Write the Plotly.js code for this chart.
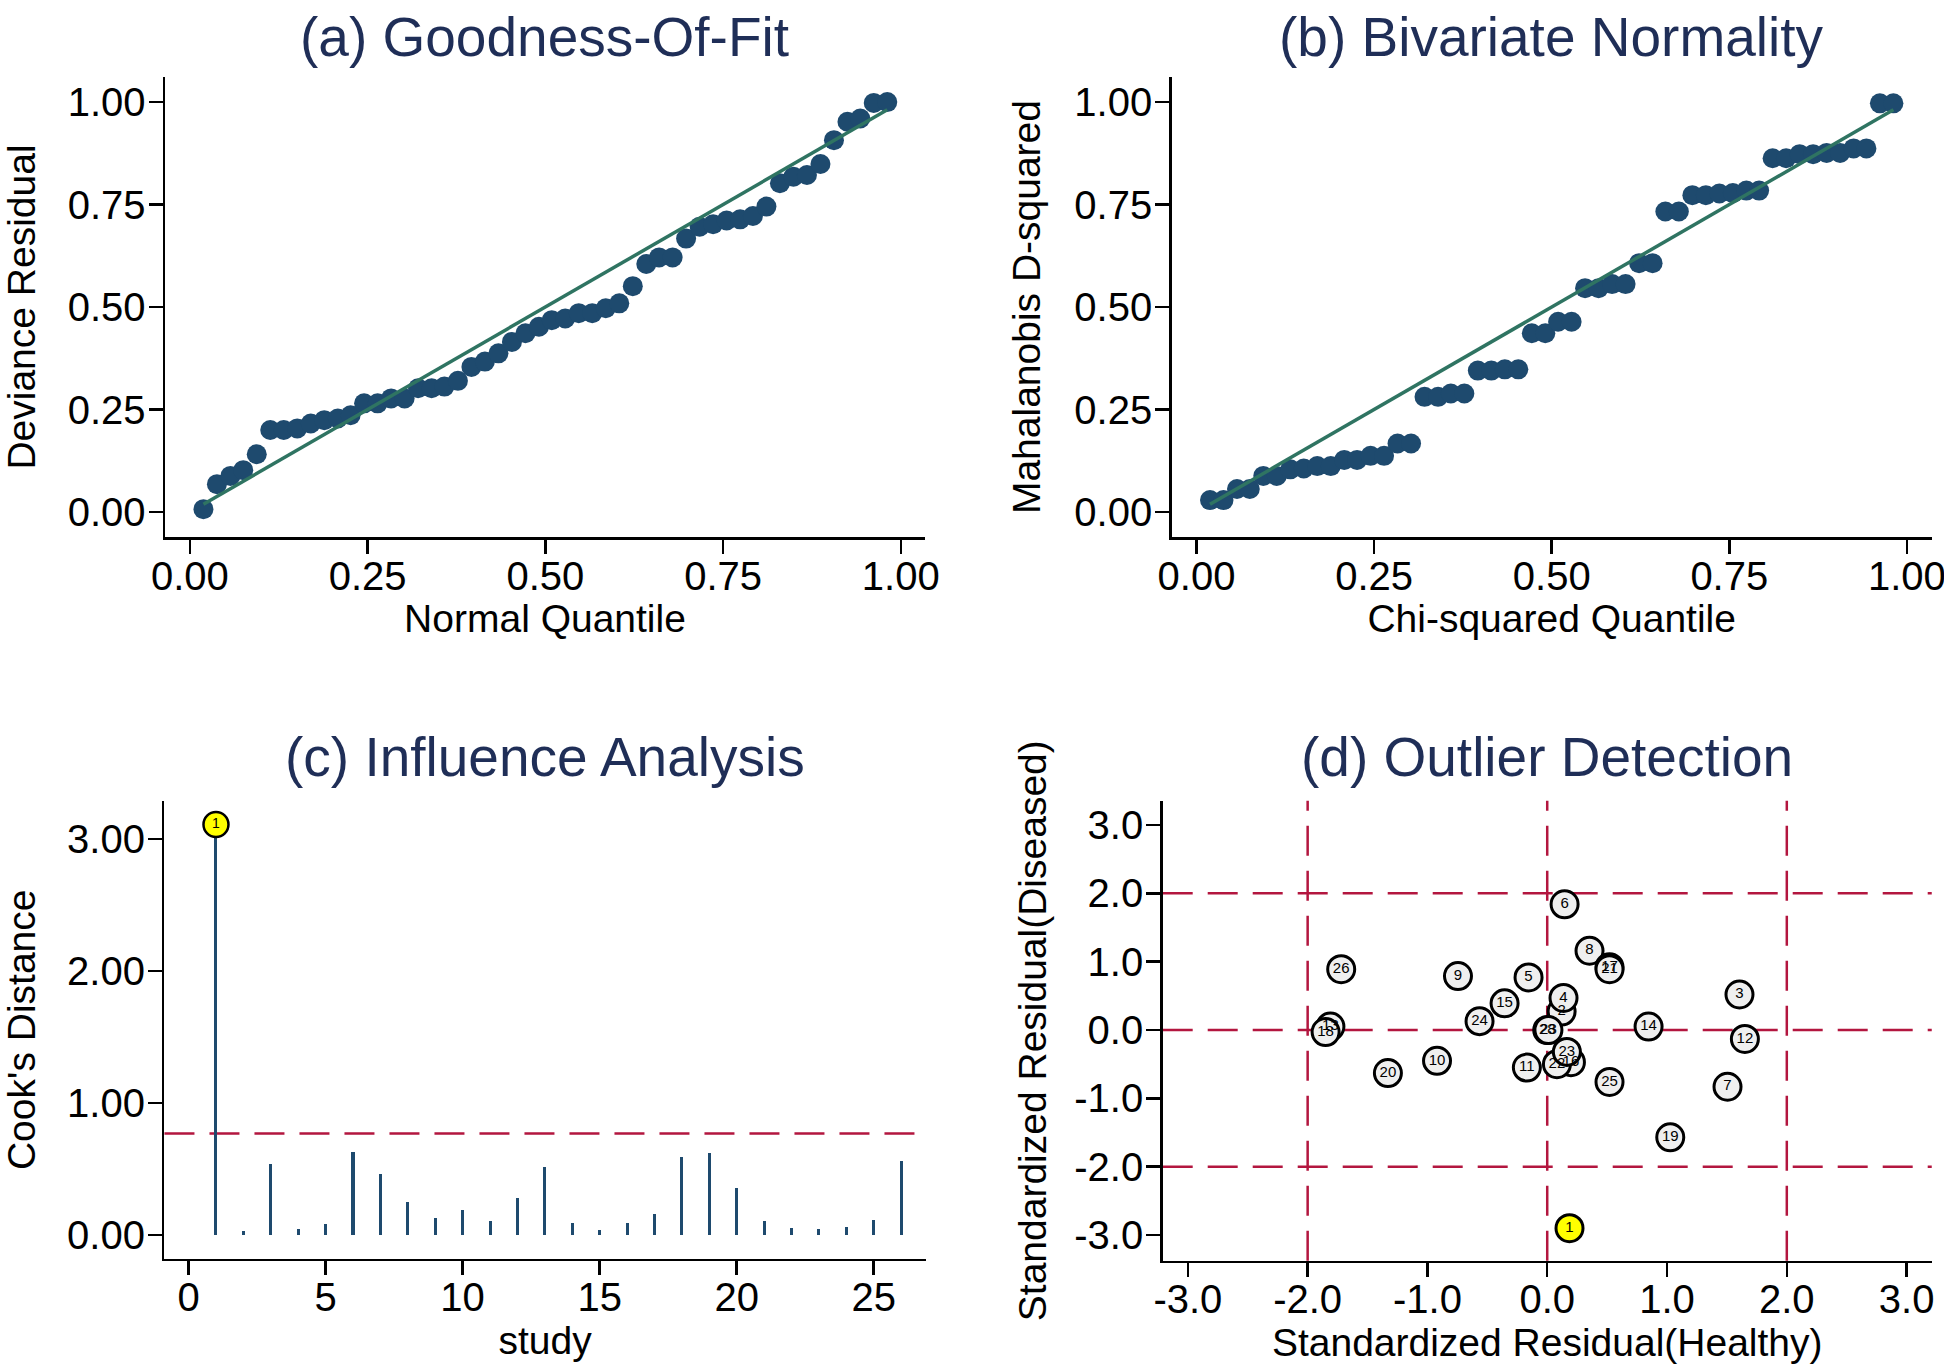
<!DOCTYPE html>
<html>
<head>
<meta charset="utf-8">
<script src="https://cdn.plot.ly/plotly-3.0.1.min.js"></script>
<style>
  html, body { margin: 0; padding: 0; background: #ffffff; }
  #chart { width: 1944px; height: 1364px; }
</style>
</head>
<body>
<div id="chart"></div>
<script>
// ---------------- DATA ----------------
// (a) Goodness-of-fit: plotting positions (normal quantile) and sorted deviance residuals
const normalQuantile = [0.019, 0.038, 0.057, 0.075, 0.094, 0.113, 0.132, 0.151, 0.170, 0.189,
  0.208, 0.226, 0.245, 0.264, 0.283, 0.302, 0.321, 0.340, 0.358, 0.377,
  0.396, 0.415, 0.434, 0.453, 0.472, 0.491, 0.509, 0.528, 0.547, 0.566,
  0.585, 0.604, 0.623, 0.642, 0.660, 0.679, 0.698, 0.717, 0.736, 0.755,
  0.774, 0.792, 0.811, 0.830, 0.849, 0.868, 0.887, 0.906, 0.925, 0.943,
  0.962, 0.981];
const devianceResidual = [0.007, 0.068, 0.088, 0.102, 0.141, 0.200, 0.200, 0.204, 0.216, 0.224,
  0.228, 0.236, 0.265, 0.265, 0.277, 0.277, 0.302, 0.302, 0.306, 0.320,
  0.354, 0.367, 0.387, 0.415, 0.436, 0.452, 0.468, 0.472, 0.485, 0.485,
  0.497, 0.509, 0.551, 0.605, 0.621, 0.621, 0.667, 0.696, 0.702, 0.711,
  0.714, 0.722, 0.745, 0.802, 0.818, 0.822, 0.849, 0.907, 0.952, 0.960,
  0.998, 1.000];

// (b) Bivariate normality: chi-squared quantile and Mahalanobis D-squared
const chiSqQuantile = [0.019, 0.038, 0.057, 0.075, 0.094, 0.113, 0.132, 0.151, 0.170, 0.189,
  0.208, 0.226, 0.245, 0.264, 0.283, 0.302, 0.321, 0.340, 0.358, 0.377,
  0.396, 0.415, 0.434, 0.453, 0.472, 0.491, 0.509, 0.528, 0.547, 0.566,
  0.585, 0.604, 0.623, 0.642, 0.660, 0.679, 0.698, 0.717, 0.736, 0.755,
  0.774, 0.792, 0.811, 0.830, 0.849, 0.868, 0.887, 0.906, 0.925, 0.943,
  0.962, 0.981];
const mahalanobisD2 = [0.029, 0.029, 0.056, 0.056, 0.088, 0.088, 0.104, 0.106, 0.112, 0.112,
  0.127, 0.127, 0.137, 0.137, 0.167, 0.167, 0.281, 0.281, 0.289, 0.289,
  0.345, 0.345, 0.348, 0.348, 0.436, 0.436, 0.464, 0.464, 0.546, 0.546,
  0.556, 0.556, 0.607, 0.607, 0.733, 0.733, 0.773, 0.773, 0.777, 0.778,
  0.784, 0.784, 0.863, 0.863, 0.873, 0.873, 0.876, 0.876, 0.887, 0.887,
  0.997, 0.997];

// reference (45-degree) lines
const refLineA = [0.019, 0.981];
const refLineB = [0.019, 0.981];

// (c) Influence analysis: Cook's distance per study
const studyIds = [1, 2, 3, 4, 5, 6, 7, 8, 9, 10, 11, 12, 13, 14, 15, 16, 17, 18, 19, 20, 21, 22, 23, 24, 25, 26];
const cooksDistance = [3.11, 0.033, 0.538, 0.050, 0.088, 0.627, 0.462, 0.253, 0.131, 0.190,
  0.106, 0.283, 0.518, 0.096, 0.038, 0.094, 0.157, 0.594, 0.624, 0.361,
  0.104, 0.058, 0.050, 0.063, 0.114, 0.564];
const cooksThreshold = 0.77;
const influentialStudies = [1];

// (d) Outlier detection: standardized residuals
const outlierLabels = ["1", "2", "3", "4", "5", "6", "7", "8", "9", "10", "11", "12", "13",
  "14", "15", "16", "17", "18", "19", "20", "21", "22", "23", "24", "25", "26", "28", "23"];
const residHealthy = [0.186, 0.120, 1.605, 0.136, -0.156, 0.145, 1.505, 0.353, -0.745, -0.920,
  -0.170, 1.650, -1.810, 0.846, -0.356, 0.198, 0.520, -1.850, 1.027, -1.330,
  0.520, 0.081, 0.164, -0.565, 0.520, -1.720, 0.000, 0.010];
const residDiseased = [-2.90, 0.27, 0.52, 0.47, 0.77, 1.84, -0.83, 1.16, 0.79, -0.45,
  -0.55, -0.13, 0.05, 0.05, 0.39, -0.47, 0.92, -0.03, -1.57, -0.63,
  0.89, -0.50, -0.32, 0.13, -0.76, 0.89, 0.00, 0.00];
const outlierCutoffs = [-2, 0, 2];

// tick labels
const unitTicks = [0, 0.25, 0.5, 0.75, 1];
const unitTickText = ["0.00", "0.25", "0.50", "0.75", "1.00"];
const cookTicks = [0, 1, 2, 3];
const cookTickText = ["0.00", "1.00", "2.00", "3.00"];
const studyTicks = [0, 5, 10, 15, 20, 25];
const residTicks = [-3, -2, -1, 0, 1, 2, 3];
const residTickText = ["-3.0", "-2.0", "-1.0", "0.0", "1.0", "2.0", "3.0"];

// ---------------- STYLE ----------------
const FONT = "Liberation Sans, Arial, Helvetica, sans-serif";
const NAVY = "#1e4a6e";
const TEAL = "#2f7462";
const CRIMSON = "#b3163f";
const TITLE_COLOR = "#1f2e57";

function xAxisBase(extra) {
  return Object.assign({
    showline: true, linecolor: "#000000", linewidth: 2.5,
    ticks: "outside", ticklen: 14, tickwidth: 2.5, tickcolor: "#000000",
    showgrid: false, zeroline: false, mirror: false,
    tickfont: { family: FONT, size: 40, color: "#000000" },
    ticklabelstandoff: -12, ticklabeloverflow: "allow",
    automargin: false, fixedrange: true
  }, extra);
}
function yAxisBase(extra) {
  return Object.assign({
    showline: true, linecolor: "#000000", linewidth: 2.5,
    ticks: "outside", ticklen: 14, tickwidth: 2.5, tickcolor: "#000000",
    showgrid: false, zeroline: false, mirror: false,
    tickfont: { family: FONT, size: 40, color: "#000000" },
    ticklabelstandoff: -5, ticklabeloverflow: "allow",
    automargin: false, fixedrange: true
  }, extra);
}

const traces = [
  // (a)
  { type: "scatter", mode: "markers", x: normalQuantile, y: devianceResidual,
    xaxis: "x", yaxis: "y", marker: { size: 20, color: NAVY }, hoverinfo: "skip" },
  { type: "scatter", mode: "lines", x: refLineA, y: refLineA,
    xaxis: "x", yaxis: "y", line: { color: TEAL, width: 3.5 }, hoverinfo: "skip" },
  // (b)
  { type: "scatter", mode: "markers", x: chiSqQuantile, y: mahalanobisD2,
    xaxis: "x2", yaxis: "y2", marker: { size: 20, color: NAVY }, hoverinfo: "skip" },
  { type: "scatter", mode: "lines", x: refLineB, y: refLineB,
    xaxis: "x2", yaxis: "y2", line: { color: TEAL, width: 3.5 }, hoverinfo: "skip" },
  // (c)
  { type: "bar", x: studyIds, y: cooksDistance, width: 0.11,
    xaxis: "x3", yaxis: "y3", marker: { color: NAVY, line: { width: 0 } }, hoverinfo: "skip" },
  { type: "scatter", mode: "markers+text",
    x: influentialStudies,
    y: influentialStudies.map(s => cooksDistance[studyIds.indexOf(s)]),
    text: influentialStudies.map(String), textposition: "middle center",
    textfont: { family: FONT, size: 14, color: "#000000" },
    xaxis: "x3", yaxis: "y3",
    marker: { size: 25, color: "#ffff00", line: { color: "#000000", width: 2.5 } }, hoverinfo: "skip" },
  // (d)
  { type: "scatter", mode: "markers+text", x: residHealthy, y: residDiseased,
    text: outlierLabels, textposition: "middle center",
    textfont: { family: FONT, size: 15, color: "#000000" },
    xaxis: "x4", yaxis: "y4",
    marker: { size: 27,
      color: outlierLabels.map((l, i) => (i === 0 ? "#ffff00" : "#efefef")),
      line: { color: "#000000", width: 3 } },
    hoverinfo: "skip" }
];

const dashLine = { color: CRIMSON, width: 2.5, dash: "30px,15px" };
const shapes = [
  { type: "line", layer: "below", xref: "x3 domain", yref: "y3", x0: 0, x1: 1,
    y0: cooksThreshold, y1: cooksThreshold, line: dashLine }
];
outlierCutoffs.forEach(v => {
  shapes.push({ type: "line", layer: "below", xref: "x4", yref: "y4 domain",
    x0: v, x1: v, y0: 0, y1: 1, line: dashLine });
  shapes.push({ type: "line", layer: "below", xref: "x4 domain", yref: "y4",
    x0: 0, x1: 1, y0: v, y1: v, line: dashLine });
});

function panelTitle(text, x, y) {
  return { text: text, xref: "paper", yref: "paper", x: x, y: y,
    xanchor: "center", yanchor: "middle", showarrow: false,
    font: { family: FONT, size: 55, color: TITLE_COLOR } };
}

const axisTitleFont = { family: FONT, size: 39, color: "#000000" };

const layout = {
  width: 1944, height: 1364,
  margin: { l: 0, r: 0, t: 0, b: 0, pad: 0 },
  paper_bgcolor: "#ffffff", plot_bgcolor: "#ffffff",
  showlegend: false, bargap: 0,
  font: { family: FONT, color: "#000000" },
  xaxis: xAxisBase({ domain: [0.0849, 0.4758], range: [-0.035, 1.034], anchor: "y",
    tickvals: unitTicks, ticktext: unitTickText,
    title: { text: "Normal Quantile", font: axisTitleFont, standoff: 4 } }),
  yaxis: yAxisBase({ domain: [0.6063, 0.9435], range: [-0.061, 1.061], anchor: "x",
    tickvals: unitTicks, ticktext: unitTickText,
    title: { text: "Deviance Residual", font: axisTitleFont, standoff: 24 } }),
  xaxis2: xAxisBase({ domain: [0.6027, 0.9937], range: [-0.035, 1.035], anchor: "y2",
    tickvals: unitTicks, ticktext: unitTickText,
    title: { text: "Chi-squared Quantile", font: axisTitleFont, standoff: 4 } }),
  yaxis2: yAxisBase({ domain: [0.6063, 0.9435], range: [-0.061, 1.061], anchor: "x2",
    tickvals: unitTicks, ticktext: unitTickText,
    title: { text: "Mahalanobis D-squared", font: axisTitleFont, standoff: 22 } }),
  xaxis3: xAxisBase({ domain: [0.0846, 0.4762], range: [-0.88, 26.9], anchor: "y3",
    tickvals: studyTicks,
    title: { text: "study", font: axisTitleFont, standoff: 4 } }),
  yaxis3: yAxisBase({ domain: [0.0770, 0.4130], range: [-0.18, 3.29], anchor: "x3",
    tickvals: cookTicks, ticktext: cookTickText,
    title: { text: "Cook's Distance", font: axisTitleFont, standoff: 24 } }),
  xaxis4: xAxisBase({ domain: [0.5981, 0.9937], range: [-3.21, 3.21], anchor: "y4",
    tickvals: residTicks, ticktext: residTickText,
    title: { text: "Standardized Residual(Healthy)", font: axisTitleFont, standoff: 4 } }),
  yaxis4: yAxisBase({ domain: [0.0757, 0.4130], range: [-3.376, 3.356], anchor: "x4",
    tickvals: residTicks, ticktext: residTickText,
    title: { text: "Standardized Residual(Diseased)", font: axisTitleFont, standoff: 16 } }),
  shapes: shapes,
  annotations: [
    panelTitle("(a) Goodness-Of-Fit", 0.2803, 0.9729),
    panelTitle("(b) Bivariate Normality", 0.7982, 0.9729),
    panelTitle("(c) Influence Analysis", 0.2803, 0.445),
    panelTitle("(d) Outlier Detection", 0.7959, 0.445)
  ]
};

Plotly.newPlot("chart", traces, layout, { staticPlot: true, displayModeBar: false });
</script>
</body>
</html>
